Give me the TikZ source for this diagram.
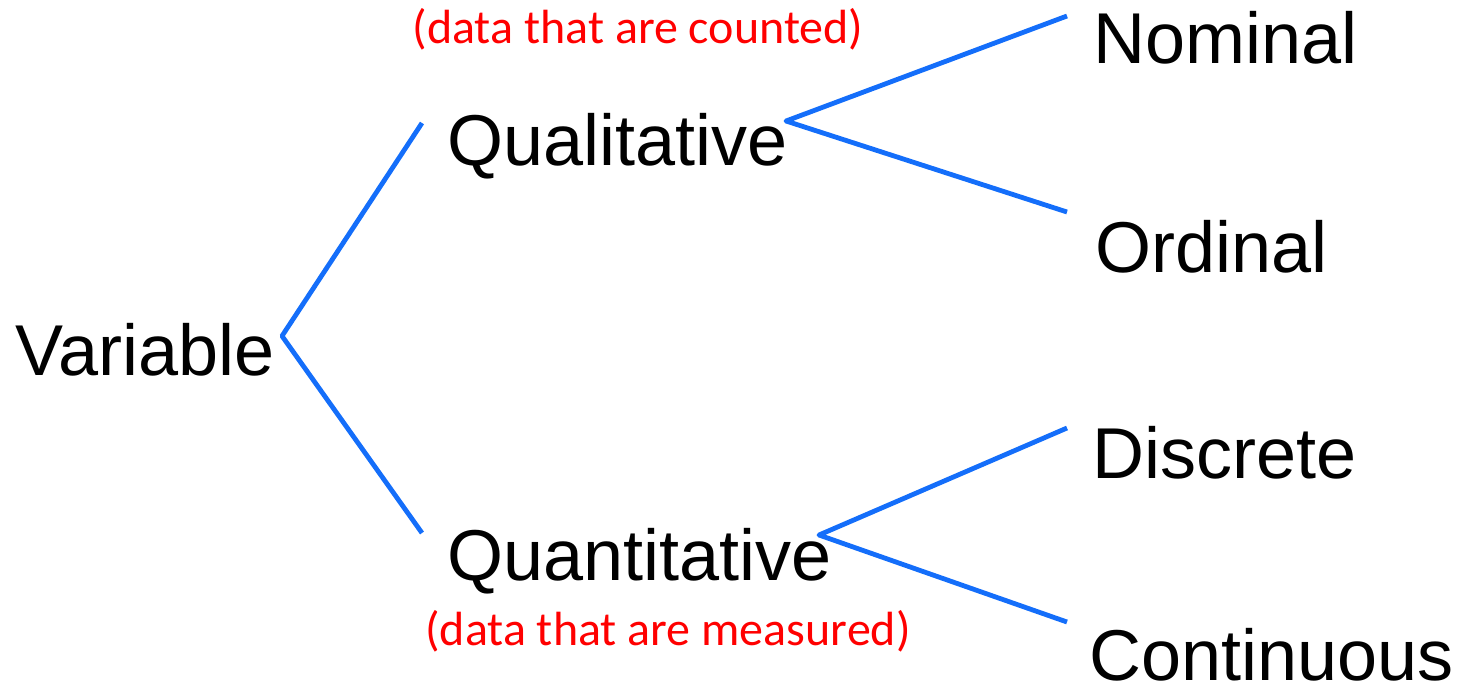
\documentclass[tikz,border=0pt]{standalone}
\usepackage{fontspec}
\setmainfont{Liberation Sans}
\newfontfamily\notefont{Carlito}
\usepackage{tikz}
\definecolor{branchblue}{RGB}{20,110,250}
\tikzset{
    term/.style={anchor=base west, inner sep=0pt, font=\fontsize{36}{43}\selectfont},
    note/.style={anchor=base, inner sep=0pt, text=red, font=\notefont\fontsize{24}{29}\selectfont},
    branch/.style={draw=branchblue, line width=2.4pt, line join=round}
}

\begin{document}
\begin{tikzpicture}[x=0.5pt,y=-0.5pt]
            \useasboundingbox (0,0) rectangle (1458,686);
            \node[term] (var) at (15,375) {Variable};
            \node[term] (qual) at (447,165) {Qualitative};
            \node[term] (quan) at (447,580) {Quantitative};
            \node[term] (nom) at (1093,63) {Nominal};
            \node[term] (ord) at (1095,272) {Ordinal};
            \node[term] (disc) at (1092,478) {Discrete};
            \node[term] (cont) at (1089,680) {Continuous};
            \node[note] (counted) at (638,43) {(data that are counted)};
            \node[note] (measured) at (668,645) {(data that are measured)};
            \coordinate (varfork) at (282,336);
            \coordinate (qualin) at (422,123);
            \coordinate (quanin) at (422,533);
            \coordinate (qualfork) at (786,121);
            \coordinate (nomin) at (1067,16);
            \coordinate (ordin) at (1067,212);
            \coordinate (quanfork) at (819,535);
            \coordinate (discin) at (1067,428);
            \coordinate (contin) at (1067,622);
            \draw[branch] (qualin) -- (varfork) -- (quanin);
            \draw[branch] (nomin) -- (qualfork) -- (ordin);
            \draw[branch] (discin) -- (quanfork) -- (contin);
        \end{tikzpicture}
\end{document}
